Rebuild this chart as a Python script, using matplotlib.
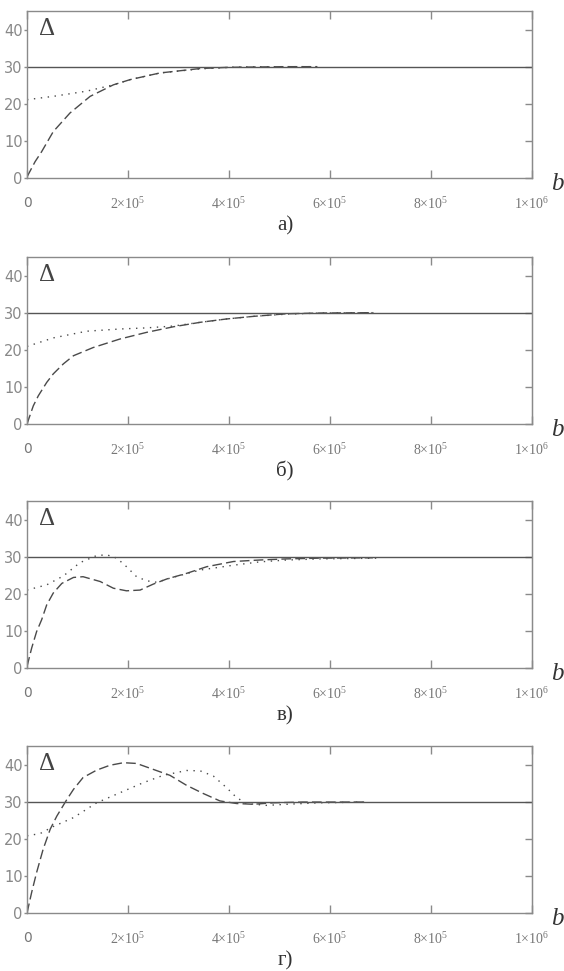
import numpy as np
import matplotlib
matplotlib.use("Agg")
import matplotlib.pyplot as plt

plt.rcParams['font.family'] = ['Liberation Sans Narrow', 'DejaVu Sans']
plt.rcParams['mathtext.fontset'] = 'custom'
plt.rcParams['mathtext.rm'] = 'Liberation Serif'
plt.rcParams['mathtext.it'] = 'Liberation Serif:italic'

# values, x in units of 1e5
xa_dash = [0, 0.16, 0.29, 0.52, 0.85, 1.25, 1.71, 2.04, 2.63, 3.43, 3.95, 4.48, 5.1, 5.75]
ya_dash = [0.3, 4.4, 7.1, 12.5, 17.5, 22.0, 25.1, 26.5, 28.3, 29.5, 29.8, 29.9, 30.0, 30.0]
xa_dot = [0, 0.52, 1.18, 1.71, 2.04, 2.63, 3.43, 4.15, 5.0, 5.75]
ya_dot = [21.1, 22.0, 23.4, 25.1, 26.5, 28.3, 29.4, 29.9, 30.0, 30.0]

xb_dash = [0, 0.125, 0.224, 0.39, 0.52, 0.72, 0.92, 1.31, 1.84, 2.37, 2.9, 3.43, 3.95, 4.48, 5.14, 5.8, 6.86]
yb_dash = [0, 4.9, 7.6, 11.2, 13.5, 16.2, 18.4, 20.6, 22.9, 24.7, 26.2, 27.4, 28.3, 29.0, 29.7, 29.9, 30.0]
xb_dot = [0, 0.52, 1.18, 1.84, 2.37, 2.9, 3.43, 3.95, 4.48, 5.14, 5.8, 6.86]
yb_dot = [20.9, 23.2, 25.0, 25.6, 25.9, 26.4, 27.4, 28.3, 29.0, 29.6, 29.9, 30.0]

xc_dash = [0, 0.093, 0.19, 0.29, 0.39, 0.52, 0.69, 0.92, 1.11, 1.45, 1.71, 1.97, 2.24, 2.5, 2.77,
           3.16, 3.56, 4.09, 4.61, 5.14, 5.8, 6.85]
yc_dash = [0.4, 5.4, 9.8, 13.0, 17.0, 20.2, 22.8, 24.4, 24.6, 23.3, 21.5, 20.8, 21.0, 22.6, 24.0,
           25.5, 27.3, 28.7, 29.1, 29.4, 29.6, 29.7]
xc_dot = [0, 0.39, 0.72, 1.05, 1.38, 1.58, 1.78, 1.97, 2.17, 2.37, 2.57, 2.83, 3.43, 4.09, 4.61,
          5.14, 5.8, 6.96]
yc_dot = [21.0, 22.4, 24.8, 28.4, 30.3, 30.5, 29.6, 27.3, 24.6, 23.5, 23.1, 24.2, 26.4, 27.7, 28.6,
          29.1, 29.4, 29.6]

xd_dash = [0, 0.093, 0.19, 0.32, 0.46, 0.59, 0.79, 0.92, 1.11, 1.38, 1.64, 1.91, 2.17, 2.5, 2.83,
           3.16, 3.49, 3.82, 4.15, 4.48, 4.88, 5.47, 6.73]
yd_dash = [0, 5.6, 10.9, 17.2, 22.6, 26.1, 30.6, 33.3, 36.5, 38.5, 39.8, 40.5, 40.3, 38.7, 37.1,
           34.4, 32.2, 30.2, 29.5, 29.3, 29.7, 29.9, 29.9]
xd_dot = [0, 0.26, 0.52, 0.92, 1.38, 1.84, 2.3, 2.7, 3.16, 3.43, 3.69, 3.95, 4.15, 4.35, 4.74,
          5.14, 5.8, 6.73]
yd_dot = [20.8, 21.4, 23.3, 25.7, 29.7, 32.4, 35.1, 37.1, 38.4, 38.3, 36.9, 33.8, 31.1, 29.5, 29.0,
          29.3, 29.7, 29.9]

panels = [
    (xa_dash, ya_dash, xa_dot, ya_dot, 'а)'),
    (xb_dash, yb_dash, xb_dot, yb_dot, 'б)'),
    (xc_dash, yc_dash, xc_dot, yc_dot, 'в)'),
    (xd_dash, yd_dash, xd_dot, yd_dot, 'г)'),
]
target = 30
x_ticks = [0, 2e5, 4e5, 6e5, 8e5, 1e6]
x_labels = ['0', r'$2{\times}10^{5}$', r'$4{\times}10^{5}$', r'$6{\times}10^{5}$',
            r'$8{\times}10^{5}$', r'$1{\times}10^{6}$']
y_ticks = [0, 10, 20, 30, 40]

fig = plt.figure(figsize=(5.64, 9.71), dpi=100)
W, H = 564, 971
left, width, height = 27, 505, 167
bottoms = [178, 424, 668, 913]

axis_col = '#8a8a8a'
line_col = '#4a4a4a'

for (xd, yd, xt, yt, cap), bot in zip(panels, bottoms):
    ax = fig.add_axes([left / W, 1 - bot / H, width / W, height / H])
    ax.plot(np.array(xd) * 1e5, yd, color=line_col, lw=1.0, ls=(0, (7, 3)))
    ax.plot(np.array(xt) * 1e5, yt, color=line_col, lw=1.0, ls=(0, (1, 4)))
    ax.axhline(target, color='#555555', lw=1.0)
    ax.set_xlim(0, 1e6)
    ax.set_ylim(0, 45)
    for s in ax.spines.values():
        s.set_color(axis_col)
        s.set_linewidth(1.0)
    ax.set_xticks(x_ticks)
    ax.set_xticklabels(x_labels, fontsize=10)
    ax.tick_params(axis='x', direction='in', top=True, length=5.5, width=1,
                   color=axis_col, labelcolor='#777777', pad=13)
    ax.set_yticks(y_ticks)
    ax.tick_params(axis='y', direction='out', length=2.5, width=1, color=axis_col,
                   labelcolor='#888888', labelsize=10.5, pad=0.5)
    sec = ax.secondary_yaxis('right')
    sec.set_yticks(y_ticks)
    sec.tick_params(direction='in', length=5, width=1, color=axis_col, labelright=False)
    sec.spines['right'].set_color(axis_col)
    ax.text(0.022, 0.90, r'$\Delta$', transform=ax.transAxes, fontsize=18,
            color='#444444', va='center', ha='left')
    ax.text(1.052, -0.03, r'$\mathit{b}$', transform=ax.transAxes, fontsize=18,
            color='#333333', va='center', ha='center')
    ax.text(0.511, -0.285, cap, transform=ax.transAxes, fontsize=15,
            family='Liberation Serif', color='#333333', va='center', ha='center')

fig.savefig('out.png', dpi=100)
